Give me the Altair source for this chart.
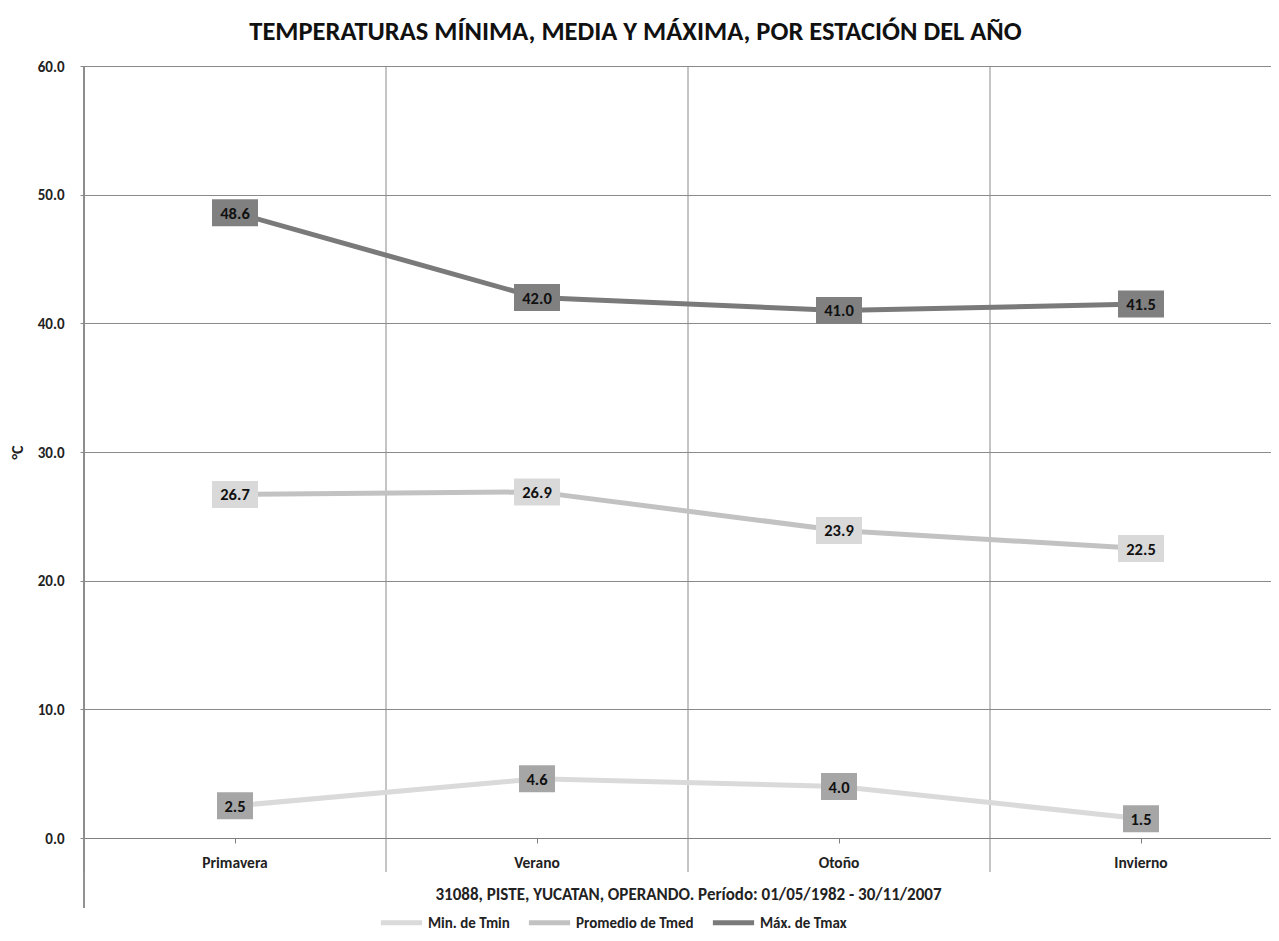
import altair as alt
import pandas as pd

seasons = ["Primavera", "Verano", "Otoño", "Invierno"]
series_names = ["Min. de Tmin", "Promedio de Tmed", "Máx. de Tmax"]
tmin = [2.5, 4.6, 4.0, 1.5]
tmed = [26.7, 26.9, 23.9, 22.5]
tmax = [48.6, 42.0, 41.0, 41.5]
y_ticks = [0, 10, 20, 30, 40, 50, 60]

line_colors = ["#dadada", "#c2c2c2", "#7a7a7a"]
box_colors = ["#a6a6a6", "#d9d9d9", "#808080"]

title_text = "TEMPERATURAS MÍNIMA, MEDIA Y MÁXIMA, POR ESTACIÓN DEL AÑO"
x_title = "31088, PISTE, YUCATAN, OPERANDO. Período: 01/05/1982 - 30/11/2007"

rows = []
for name, vals in zip(series_names, [tmin, tmed, tmax]):
    for s, v in zip(seasons, vals):
        rows.append({"season": s, "serie": name, "value": v})
df = pd.DataFrame(rows)
seasons_df = pd.DataFrame({"season": seasons})

FONT = "Carlito, Lato, sans-serif"
W, H = 1187, 772

x_scale = alt.Scale(domain=seasons, paddingInner=0, paddingOuter=0, range=[0, 1208])
x_axis = alt.Axis(
    title=x_title, grid=False, domain=True, domainColor="#7f7f7f", domainWidth=1,
    ticks=True, tickSize=5, tickColor="#7f7f7f", labelAngle=0,
    labelFont=FONT, labelFontWeight="bold", labelFontSize=15.5, labelColor="#222",
    labelPadding=12, titleFont=FONT, titleFontWeight="bold", titleFontSize=17,
    titleColor="#222", titlePadding=16,
)
y_scale = alt.Scale(domain=[0, 60], nice=False)
y_axis = alt.Axis(
    values=y_ticks, format=".1f", title="°C", grid=True, gridColor="#8a8a8a",
    gridWidth=1, domain=False, ticks=True, tickSize=4, tickColor="#8a8a8a",
    labelFont=FONT, labelFontWeight="bold", labelFontSize=15, labelColor="#222",
    labelPadding=16, titleFont=FONT, titleFontWeight="bold", titleFontSize=16,
    titleColor="#222", titleX=-59, titleY=386,
)

X = alt.X("season:N", sort=seasons, scale=x_scale, axis=x_axis)
Y = alt.Y("value:Q", scale=y_scale, axis=y_axis)

bounds = alt.Chart(seasons_df).mark_rule(color="#8a8a8a", strokeWidth=1).encode(
    x=alt.X("season:N", sort=seasons, scale=x_scale, bandPosition=0, axis=x_axis),
    y=alt.value(0), y2=alt.value(806),
)
yline = alt.Chart(seasons_df).mark_rule(color="#8a8a8a", strokeWidth=1).encode(
    x=alt.value(0), y=alt.value(0), y2=alt.value(842),
)

lines = alt.Chart(df).mark_line(strokeWidth=5).encode(
    x=X, y=Y,
    color=alt.Color("serie:N", sort=series_names,
                    scale=alt.Scale(domain=series_names, range=line_colors),
                    legend=alt.Legend(
                        title=None, orient="none", direction="horizontal",
                        legendX=294, legendY=833, padding=0, symbolType="stroke",
                        symbolSize=1700, symbolStrokeWidth=5,
                        labelFont=FONT, labelFontWeight="bold", labelFontSize=15,
                        labelColor="#222", columnPadding=8, labelOffset=3)),
    detail="serie:N",
)

fill_enc = alt.Fill("serie:N", scale=alt.Scale(domain=series_names, range=box_colors), legend=None)

box_big = alt.Chart(df).transform_filter("datum.value >= 10").mark_point(
    shape="M-1,-0.587L1,-0.587L1,0.587L-1,0.587Z", filled=True, opacity=1, strokeWidth=0, size=2116
).encode(x=X, y=Y, fill=fill_enc)

box_small = alt.Chart(df).transform_filter("datum.value < 10").mark_point(
    shape="M-1,-0.75L1,-0.75L1,0.75L-1,0.75Z", filled=True, opacity=1, strokeWidth=0, size=1296
).encode(x=X, y=Y, fill=fill_enc)

labels = alt.Chart(df).mark_text(
    font=FONT, fontWeight="bold", fontSize=16.5, color="#111", baseline="middle", align="center", dy=1
).encode(x=X, y=Y, text=alt.Text("value:Q", format=".1f"))

chart = alt.layer(bounds, yline, lines, box_big, box_small, labels).properties(
    width=W, height=H,
    title=alt.TitleParams(title_text, font=FONT, fontSize=26.5, fontWeight="bold",
                          color="#111", anchor="middle", dx=-42, offset=14),
    autosize=alt.AutoSizeParams(type="none"),
    padding={"left": 76, "top": 58, "right": 0, "bottom": 95},
).configure_view(stroke=None).configure(background="white")

chart.save("out.html", embed_options={"renderer": "svg", "actions": False})
